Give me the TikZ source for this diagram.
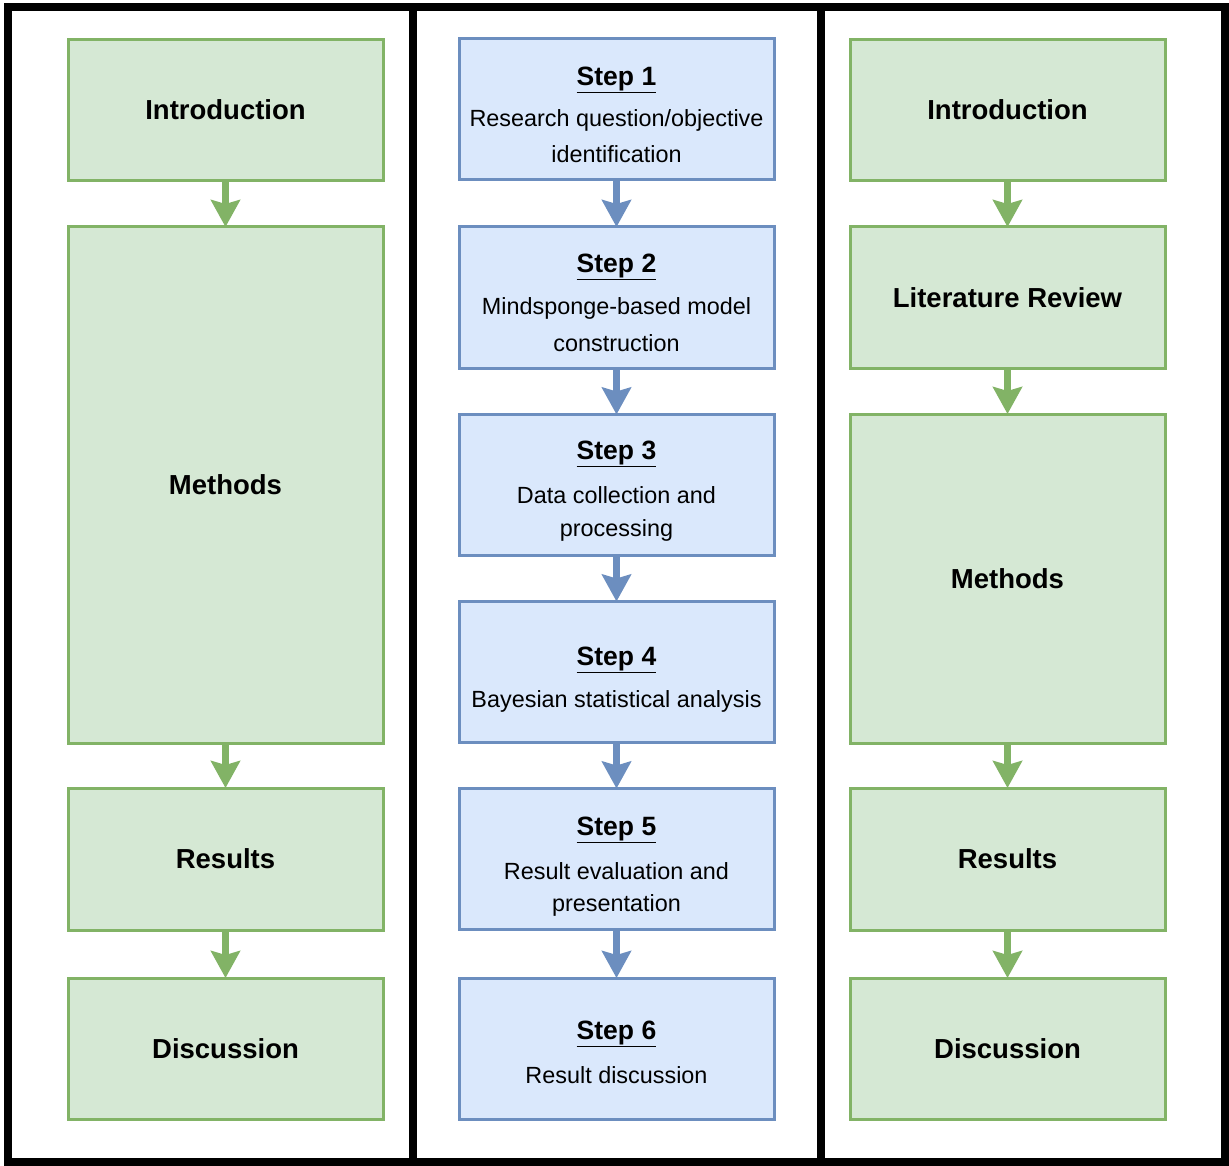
\documentclass[tikz,border=0pt]{standalone}
\usepackage{fontspec}
\setmainfont{Liberation Sans}
\usetikzlibrary{arrows.meta}
\definecolor{gfill}{HTML}{D5E8D4}
\definecolor{gdraw}{HTML}{82B366}
\definecolor{bfill}{HTML}{DAE8FC}
\definecolor{bdraw}{HTML}{6C8EBF}
\tikzset{
  gbox/.style={draw=gdraw, fill=gfill, line width=3pt, minimum width=315pt, inner sep=0pt, outer sep=0pt, font=\fontsize{27.5}{32}\selectfont\bfseries},
  bbox/.style={draw=bdraw, fill=bfill, line width=3pt, minimum width=315pt, minimum height=141pt, inner sep=0pt, outer sep=0pt},
  ttl/.style={inner sep=0pt, font=\fontsize{26.5}{32}\selectfont\bfseries},
  txt/.style={inner sep=0pt, font=\fontsize{23.4}{30}\selectfont},
  garr/.style={draw=gdraw, line width=7pt, -{Stealth[length=27pt,width=29pt,inset=4pt]}},
  barr/.style={draw=bdraw, line width=7pt, -{Stealth[length=27pt,width=29pt,inset=4pt]}},
  frame/.style={line width=8pt, draw=black}
}
\newcommand{\stp}[1]{\underline{#1}}
\begin{document}
\begin{tikzpicture}[x=1pt,y=-1pt]
\useasboundingbox (0,0) rectangle (1229,1166);
% frame
\draw[frame] (7.5,7.5) rectangle (1224.5,1162);
\draw[frame] (413,7.5) -- (413,1162);
\draw[frame] (821,7.5) -- (821,1162);

% left column
\node[gbox, minimum height=141pt] (lintro) at (225.5,110) {Introduction};
\node[gbox, minimum height=516pt] (lmeth) at (225.5,485) {Methods};
\node[gbox, minimum height=142pt] (lres) at (225.5,859) {Results};
\node[gbox, minimum height=141pt] (ldisc) at (225.5,1048.5) {Discussion};
\draw[garr] (lintro.south) -- (lmeth.north);
\draw[garr] (lmeth.south) -- (lres.north);
\draw[garr] (lres.south) -- (ldisc.north);

% right column
\node[gbox, minimum height=141pt] (rintro) at (1007.5,110) {Introduction};
\node[gbox, minimum height=141pt] (rlit) at (1007.5,297.5) {Literature Review};
\node[gbox, minimum height=329pt] (rmeth) at (1007.5,578.5) {Methods};
\node[gbox, minimum height=142pt] (rres) at (1007.5,859) {Results};
\node[gbox, minimum height=141pt] (rdisc) at (1007.5,1048.5) {Discussion};
\draw[garr] (rintro.south) -- (rlit.north);
\draw[garr] (rlit.south) -- (rmeth.north);
\draw[garr] (rmeth.south) -- (rres.north);
\draw[garr] (rres.south) -- (rdisc.north);

% middle column
\node[bbox] (s1) at (616.5,109.5) {};
\node[bbox] (s2) at (616.5,297.5) {};
\node[bbox] (s3) at (616.5,485) {};
\node[bbox] (s4) at (616.5,672) {};
\node[bbox] (s5) at (616.5,859) {};
\node[bbox] (s6) at (616.5,1048.5) {};

\node[ttl] (s1t) at (616.5,80) {\stp{Step 1}};
\node[txt] (s1a) at (616.5,120) {Research question/objective};
\node[txt] (s1b) at (616.5,154) {identification};

\node[ttl] (s2t) at (616.5,267) {\stp{Step 2}};
\node[txt] (s2a) at (616.5,308) {Mindsponge-based model};
\node[txt] (s2b) at (616.5,343) {construction};

\node[ttl] (s3t) at (616.5,454) {\stp{Step 3}};
\node[txt] (s3a) at (616.5,495) {Data collection and};
\node[txt] (s3b) at (616.5,530) {processing};

\node[ttl] (s4t) at (616.5,660) {\stp{Step 4}};
\node[txt] (s4a) at (616.5,701) {Bayesian statistical analysis};

\node[ttl] (s5t) at (616.5,830) {\stp{Step 5}};
\node[txt] (s5a) at (616.5,871) {Result evaluation and};
\node[txt] (s5b) at (616.5,905) {presentation};

\node[ttl] (s6t) at (616.5,1034) {\stp{Step 6}};
\node[txt] (s6a) at (616.5,1075) {Result discussion};

\draw[barr] (s1.south) -- (s2.north);
\draw[barr] (s2.south) -- (s3.north);
\draw[barr] (s3.south) -- (s4.north);
\draw[barr] (s4.south) -- (s5.north);
\draw[barr] (s5.south) -- (s6.north);
\end{tikzpicture}
\end{document}
